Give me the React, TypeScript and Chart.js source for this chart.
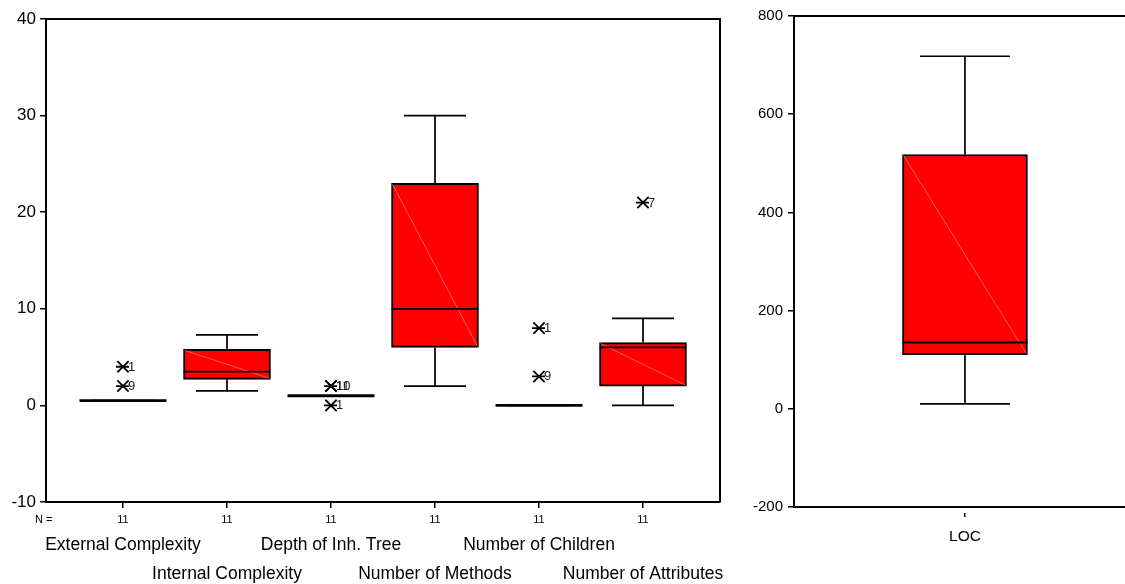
import React, { useEffect, useRef } from "react";
import { Chart, registerables } from "chart.js";

Chart.register(...registerables);

// ---------- data (left panel) ----------
const categories = [
  "External Complexity",
  "Internal Complexity",
  "Depth of Inh. Tree",
  "Number of Methods",
  "Number of Children",
  "Number of Attributes",
];
const counts = [11, 11, 11, 11, 11, 11];
const whiskerLow = [0.5, 1.5, 1, 2, 0, 0];
const q1 = [0.5, 2.7, 1, 6, 0, 2];
const median = [0.5, 3.5, 1, 10, 0, 6];
const q3 = [0.5, 5.8, 1, 23, 0, 6.5];
const whiskerHigh = [0.5, 7.3, 1, 30, 0, 9];
const outlierX = [1, 1, 3, 3, 3, 5, 5, 6];
const outlierY = [4, 2, 2, 2, 0, 8, 3, 21];
const outlierLabels = ["1", "9", "10", "11", "1", "1", "9", "7"];
const leftTicks = [-10, 0, 10, 20, 30, 40];

// ---------- data (right panel) ----------
const locCategories = ["LOC"];
const locLow = [10];
const locQ1 = [110];
const locMedian = [135];
const locQ3 = [518];
const locHigh = [718];
const rightTicks = [-200, 0, 200, 400, 600, 800];

const FONT = "'Liberation Sans', Arial, Helvetica, sans-serif";

type BoxSpec = {
  low: number[];
  q1: number[];
  med: number[];
  q3: number[];
  high: number[];
  capHalf: number;
  outliers?: { x: number[]; y: number[]; t: string[] };
  frameRight: boolean;
  nLabel?: boolean;
};

function boxPlugin(spec: BoxSpec) {
  return {
    id: "boxExtras",
    afterDatasetsDraw(chart: any) {
      const ctx = chart.ctx as CanvasRenderingContext2D;
      const ys = chart.scales.y;
      const meta = chart.getDatasetMeta(0);
      ctx.save();
      meta.data.forEach((el: any, i: number) => {
        const { x, width } = el.getProps(["x", "width"], true);
        const l = x - width / 2;
        const r = x + width / 2;
        const yq1 = ys.getPixelForValue(spec.q1[i]);
        const yq3 = ys.getPixelForValue(spec.q3[i]);
        const ylo = ys.getPixelForValue(spec.low[i]);
        const yhi = ys.getPixelForValue(spec.high[i]);
        const ymed = ys.getPixelForValue(spec.med[i]);
        ctx.strokeStyle = "#000";
        ctx.lineWidth = 1.7;
        ctx.beginPath();
        ctx.moveTo(x, yq3);
        ctx.lineTo(x, yhi);
        ctx.moveTo(x, yq1);
        ctx.lineTo(x, ylo);
        ctx.moveTo(x - spec.capHalf, yhi);
        ctx.lineTo(x + spec.capHalf, yhi);
        ctx.moveTo(x - spec.capHalf, ylo);
        ctx.lineTo(x + spec.capHalf, ylo);
        ctx.stroke();
        if (spec.q3[i] > spec.q1[i]) {
          ctx.strokeStyle = "rgba(255,150,150,0.9)";
          ctx.lineWidth = 0.7;
          ctx.beginPath();
          ctx.moveTo(l + 1, yq3 + 1);
          ctx.lineTo(r - 1, yq1 - 1);
          ctx.stroke();
        }
        ctx.strokeStyle = "#000";
        ctx.lineWidth = spec.q3[i] > spec.q1[i] ? 1.8 : 2.8;
        ctx.beginPath();
        ctx.moveTo(l, ymed);
        ctx.lineTo(r, ymed);
        ctx.stroke();
      });
      if (spec.outliers) {
        const xs = chart.scales.x;
        const o = spec.outliers;
        // horizontal arm of the asterisk markers
        ctx.strokeStyle = "#000";
        ctx.lineWidth = 1.8;
        ctx.beginPath();
        o.x.forEach((xv, i) => {
          const px = xs.getPixelForValue(xv);
          const py = ys.getPixelForValue(o.y[i]);
          ctx.moveTo(px - 7, py);
          ctx.lineTo(px + 6, py);
        });
        ctx.stroke();
        ctx.fillStyle = "#222";
        ctx.font = `13px ${FONT}`;
        ctx.textBaseline = "middle";
        ctx.textAlign = "left";
        o.t.forEach((t, i) => {
          const px = xs.getPixelForValue(o.x[i]);
          const py = ys.getPixelForValue(o.y[i]);
          ctx.fillText(t, px + 5, py + 0.5);
        });
      }
      ctx.restore();
    },
    afterDraw(chart: any) {
      const ctx = chart.ctx as CanvasRenderingContext2D;
      const a = chart.chartArea;
      ctx.save();
      ctx.strokeStyle = "#000";
      ctx.lineWidth = 2;
      ctx.beginPath();
      ctx.moveTo(a.left, a.top);
      ctx.lineTo(a.right, a.top);
      if (spec.frameRight) {
        ctx.lineTo(a.right, a.bottom);
      }
      ctx.stroke();
      if (spec.nLabel) {
        ctx.fillStyle = "#000";
        ctx.font = `11px ${FONT}`;
        ctx.textBaseline = "middle";
        ctx.textAlign = "left";
        ctx.fillText("N =", 35, 520);
      }
      ctx.restore();
    },
  };
}

export default function App() {
  const leftRef = useRef<HTMLCanvasElement>(null);
  const rightRef = useRef<HTMLCanvasElement>(null);

  useEffect(() => {
    const xMin = 0.2596;
    const xMax = 6.7404;
    const catTicks = (s: any) => {
      s.ticks = categories.map((_, i) => ({ value: i + 1 }));
    };

    const left = new Chart(leftRef.current!, {
      type: "bar",
      data: {
        datasets: [
          {
            type: "bar",
            data: categories.map((_, i) => ({ x: i + 1, y: [q1[i], q3[i]] })) as any,
            backgroundColor: "#ff0000",
            borderColor: "#000",
            borderWidth: 2,
            borderSkipped: false,
            barThickness: 87,
          } as any,
          {
            type: "scatter",
            data: outlierX.map((x, i) => ({ x, y: outlierY[i] })),
            pointStyle: "crossRot",
            pointRadius: 8,
            borderColor: "#000",
            backgroundColor: "transparent",
            pointBorderWidth: 1.8,
          } as any,
        ],
      },
      options: {
        responsive: false,
        animation: false,
        devicePixelRatio: 1,
        events: [],
        layout: { padding: { top: 19, right: 20, left: 0, bottom: 0 } },
        plugins: { legend: { display: false }, tooltip: { enabled: false } },
        scales: {
          x: {
            type: "linear",
            min: xMin,
            max: xMax,
            offset: false,
            position: "bottom",
            weight: 0,
            afterBuildTicks: catTicks,
            afterFit: (s: any) => {
              s.height = 22;
            },
            grid: {
              display: true,
              drawOnChartArea: false,
              drawTicks: true,
              tickLength: 6,
              color: "#000",
              lineWidth: 1.5,
              offset: false,
            },
            border: { display: true, color: "#000", width: 2 },
            ticks: {
              autoSkip: false,
              maxRotation: 0,
              minRotation: 0,
              padding: 5,
              color: "#000",
              font: { family: FONT, size: 11 },
              callback: (_v: any, i: number) => String(counts[i]),
            },
          },
          x2: {
            type: "linear",
            min: xMin,
            max: xMax,
            offset: false,
            position: "bottom",
            weight: 1,
            afterBuildTicks: catTicks,
            afterFit: (s: any) => {
              s.height = 60;
            },
            grid: { display: false, drawTicks: false, drawOnChartArea: false },
            border: { display: false },
            ticks: {
              autoSkip: false,
              maxRotation: 0,
              minRotation: 0,
              padding: 7,
              color: "#000",
              font: { family: FONT, size: 17.5, lineHeight: "29px" },
              callback: (_v: any, i: number) =>
                i % 2 === 0 ? [categories[i]] : ["", categories[i]],
            },
          },
          y: {
            type: "linear",
            min: -10,
            max: 40,
            afterBuildTicks: (s: any) => {
              s.ticks = leftTicks.map((v) => ({ value: v }));
            },
            afterFit: (s: any) => {
              s.width = 46;
            },
            grid: {
              display: true,
              drawOnChartArea: false,
              drawTicks: true,
              tickLength: 6,
              color: "#000",
              lineWidth: 1.5,
            },
            border: { display: true, color: "#000", width: 2 },
            ticks: { padding: 4, color: "#000", font: { family: FONT, size: 17 } },
          },
        },
      } as any,
      plugins: [
        boxPlugin({
          low: whiskerLow,
          q1,
          med: median,
          q3,
          high: whiskerHigh,
          capHalf: 31,
          outliers: { x: outlierX, y: outlierY, t: outlierLabels },
          frameRight: true,
          nLabel: true,
        }),
      ],
    });

    const right = new Chart(rightRef.current!, {
      type: "bar",
      data: {
        datasets: [
          {
            type: "bar",
            data: locCategories.map((_, i) => ({ x: i + 1, y: [locQ1[i], locQ3[i]] })) as any,
            backgroundColor: "#ff0000",
            borderColor: "#000",
            borderWidth: 2,
            borderSkipped: false,
            barThickness: 125,
          } as any,
        ],
      },
      options: {
        responsive: false,
        animation: false,
        devicePixelRatio: 1,
        events: [],
        layout: { padding: { top: 16, right: 0, left: 0, bottom: 0 } },
        plugins: { legend: { display: false }, tooltip: { enabled: false } },
        scales: {
          x: {
            type: "linear",
            min: 0,
            max: 1.936,
            offset: false,
            position: "bottom",
            afterBuildTicks: (s: any) => {
              s.ticks = locCategories.map((_, i) => ({ value: i + 1 }));
            },
            afterFit: (s: any) => {
              s.height = 77;
            },
            grid: {
              display: true,
              drawOnChartArea: false,
              drawTicks: true,
              tickLength: 10,
              tickBorderDash: [0, 5, 5, 0],
              color: "#000",
              lineWidth: 1.5,
              offset: false,
            },
            border: { display: true, color: "#000", width: 2 },
            ticks: {
              autoSkip: false,
              maxRotation: 0,
              minRotation: 0,
              padding: 10,
              color: "#000",
              font: { family: FONT, size: 15.5 },
              callback: (_v: any, i: number) => locCategories[i],
            },
          },
          y: {
            type: "linear",
            min: -200,
            max: 800,
            afterBuildTicks: (s: any) => {
              s.ticks = rightTicks.map((v) => ({ value: v }));
            },
            afterFit: (s: any) => {
              s.width = 54;
            },
            grid: {
              display: true,
              drawOnChartArea: false,
              drawTicks: true,
              tickLength: 6,
              color: "#000",
              lineWidth: 1.5,
            },
            border: { display: true, color: "#000", width: 2 },
            ticks: { padding: 5, color: "#000", font: { family: FONT, size: 15 } },
          },
        },
      } as any,
      plugins: [
        boxPlugin({
          low: locLow,
          q1: locQ1,
          med: locMedian,
          q3: locQ3,
          high: locHigh,
          capHalf: 45,
          frameRight: false,
        }),
      ],
    });

    return () => {
      left.destroy();
      right.destroy();
    };
  }, []);

  return (
    <div
      style={{
        position: "absolute",
        left: 0,
        top: 0,
        width: 1125,
        height: 584,
        background: "#fff",
        overflow: "hidden",
      }}
    >
      <canvas
        ref={leftRef}
        width={740}
        height={584}
        style={{ position: "absolute", left: 0, top: 0, width: 740, height: 584 }}
      />
      <canvas
        ref={rightRef}
        width={385}
        height={584}
        style={{ position: "absolute", left: 740, top: 0, width: 385, height: 584 }}
      />
    </div>
  );
}
